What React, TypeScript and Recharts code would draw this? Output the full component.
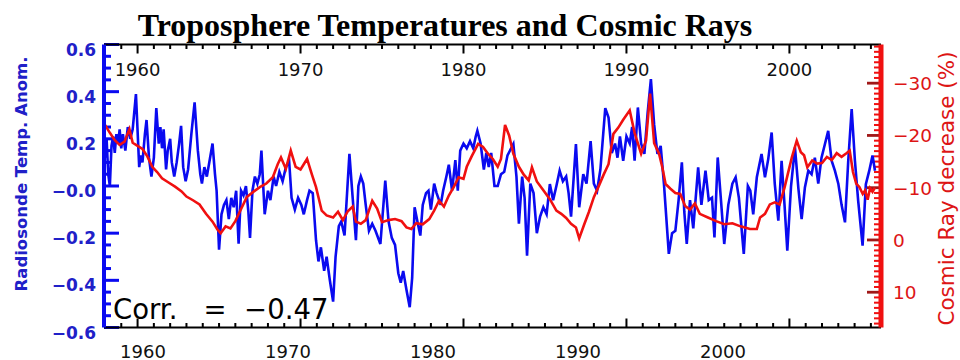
import React from 'react';
import { LineChart, Line, XAxis, YAxis } from 'recharts';

// ---------- data ----------
const TEMP_YEARS = [
  1958.0, 1958.1, 1958.2, 1958.3, 1958.4, 1958.5, 1958.6, 1958.7, 1958.8, 1958.9,
  1959.0, 1959.1, 1959.25, 1959.4, 1959.55, 1959.7, 1959.9, 1960.1, 1960.2, 1960.3,
  1960.45, 1960.55, 1960.7, 1960.85, 1961.0, 1961.15, 1961.3, 1961.4, 1961.5, 1961.6,
  1961.75, 1961.85, 1962.0, 1962.1, 1962.25, 1962.4, 1962.55, 1962.67, 1962.8, 1962.95,
  1963.1, 1963.3, 1963.5, 1963.7, 1963.85, 1963.95, 1964.1, 1964.25, 1964.4, 1964.6,
  1964.75, 1964.85, 1965.0, 1965.15, 1965.3, 1965.45, 1965.6, 1965.75, 1965.9, 1966.05,
  1966.2, 1966.35, 1966.5, 1966.65, 1966.8, 1966.9, 1967.05, 1967.2, 1967.35, 1967.5,
  1967.6, 1967.8, 1968.0, 1968.15, 1968.35, 1968.5, 1968.7, 1968.9, 1969.1, 1969.3,
  1969.45, 1969.65, 1969.85, 1970.05, 1970.2, 1970.4, 1970.55, 1970.75, 1970.95, 1971.1,
  1971.25, 1971.45, 1971.6, 1971.8, 1972.0, 1972.15, 1972.35, 1972.5, 1972.7, 1973.0,
  1973.2, 1973.4, 1973.55, 1973.7, 1973.85, 1974.0, 1974.2, 1974.4, 1974.6, 1974.9,
  1975.2, 1975.4, 1975.6, 1975.8, 1976.0, 1976.15, 1976.3, 1976.5, 1976.7, 1976.85,
  1977.0, 1977.2, 1977.35, 1977.5, 1977.7, 1977.85, 1978.0, 1978.2, 1978.35, 1978.6,
  1978.75, 1978.95, 1979.1, 1979.3, 1979.5, 1979.65, 1979.8, 1980.0, 1980.2, 1980.4,
  1980.6, 1980.75, 1980.85, 1981.05, 1981.25, 1981.4, 1981.55, 1981.7, 1981.9, 1982.1,
  1982.3, 1982.5, 1982.7, 1983.06, 1983.25, 1983.4, 1983.6, 1983.75, 1983.9, 1984.1,
  1984.3, 1984.5, 1984.7, 1984.9, 1985.1, 1985.3, 1985.5, 1985.7, 1985.9, 1986.1,
  1986.3, 1986.45, 1986.6, 1986.9, 1987.1, 1987.35, 1987.55, 1987.8, 1988.0, 1988.2,
  1988.4, 1988.7, 1988.9, 1989.1, 1989.3, 1989.45, 1989.6, 1989.8, 1990.0, 1990.2,
  1990.35, 1990.5, 1990.7, 1990.9, 1991.1, 1991.3, 1991.5, 1991.7, 1991.9, 1992.1,
  1992.3, 1992.6, 1992.8, 1993.0, 1993.2, 1993.4, 1993.55, 1993.7, 1993.9, 1994.1,
  1994.4, 1994.6, 1994.85, 1995.05, 1995.25, 1995.4, 1995.6, 1995.8, 1996.0, 1996.25,
  1996.5, 1996.7, 1996.9, 1997.2, 1997.45, 1997.6, 1997.78, 1998.0, 1998.29, 1998.5,
  1998.7, 1998.91, 1999.1, 1999.32, 1999.52, 1999.7, 1999.87, 2000.1, 2000.34, 2000.55,
  2000.75, 2000.95, 2001.16, 2001.36, 2001.56, 2001.77, 2001.97, 2002.18, 2002.38, 2002.59,
  2002.79, 2003.0, 2003.2, 2003.41, 2003.61, 2003.82, 2004.02, 2004.22, 2004.49, 2004.69,
  2004.9, 2005.1, 2005.25,
];
const TEMP_ANOM = [
  0.12, 0.2, 0.05, 0.0, 0.17, 0.21, 0.14, 0.22, 0.18, 0.24,
  0.16, 0.22, 0.15, 0.25, 0.2, 0.24, 0.39, 0.08, 0.13, 0.1,
  0.22, 0.28, 0.12, 0.04, 0.12, 0.33, 0.18, 0.25, 0.16, 0.24,
  0.07, 0.15, 0.2, 0.1, 0.04, 0.1, 0.18, 0.255, 0.08, 0.02,
  0.07, 0.22, 0.355, 0.15, 0.05, 0.01, 0.08, 0.04, 0.1, 0.18,
  0.05, -0.02, -0.27, -0.12, -0.08, -0.06, -0.14, -0.05, -0.09, -0.02,
  -0.245, -0.02, -0.04, 0.0, -0.11, -0.22, -0.02, 0.04, 0.01, 0.05,
  0.15, -0.12, -0.02, -0.06, 0.04, 0.0, 0.06, 0.02, 0.08, 0.107,
  -0.05, -0.1, -0.05, -0.08, -0.12, -0.06, -0.02, -0.03, -0.23, -0.32,
  -0.26, -0.36, -0.3, -0.4, -0.49, -0.3, -0.17, -0.15, -0.21, 0.136,
  -0.05, -0.23, 0.0, 0.04, 0.01, -0.08, -0.19, -0.16, -0.19, -0.246,
  0.023, -0.15, -0.22, -0.25, -0.37, -0.41, -0.36, -0.44, -0.514, -0.39,
  -0.09, -0.16, -0.21, -0.08, -0.03, -0.02, -0.1, 0.01, -0.03, -0.08,
  -0.02, 0.04, 0.09, -0.02, 0.11, -0.02, 0.15, 0.18, 0.16, 0.19,
  0.16, 0.21, 0.234, 0.18, 0.07, 0.14, 0.08, 0.14, 0.0, 0.0,
  0.05, 0.06, 0.13, 0.178, 0.04, -0.16, 0.04, -0.05, -0.295, 0.01,
  -0.03, -0.2, -0.13, -0.09, -0.12, 0.008, -0.06, 0.0, 0.065, 0.02,
  0.04, -0.03, -0.13, 0.178, -0.09, 0.05, 0.01, 0.19, 0.01, -0.02,
  0.07, 0.33, 0.29, 0.14, 0.18, 0.12, 0.21, 0.107, 0.21, 0.18,
  0.25, 0.107, 0.333, 0.18, 0.136, 0.31, 0.453, 0.26, 0.136, 0.17,
  0.01, -0.288, -0.2, -0.19, -0.06, 0.1, -0.11, -0.246, -0.06, -0.18,
  0.079, -0.08, 0.065, -0.06, -0.05, -0.218, 0.121, -0.06, -0.246, -0.08,
  0.01, 0.037, -0.05, -0.288, 0.0, -0.02, -0.12, 0.037, 0.136, 0.037,
  0.114, 0.227, 0.01, -0.147, 0.107, -0.08, -0.274, 0.0, 0.164, -0.01,
  -0.14, -0.006, 0.065, 0.05, 0.12, 0.01, 0.12, 0.178, 0.234, 0.107,
  0.065, 0.01, -0.08, -0.154, 0.107, 0.326, 0.107, -0.063, -0.253, 0.008,
  0.065, 0.129, 0.065,
];

const CR_YEARS = [
  1958.0, 1958.3, 1958.6, 1958.9, 1959.2, 1959.5, 1959.7, 1960.0, 1960.3, 1960.6,
  1960.9, 1961.2, 1961.5, 1961.9, 1962.3, 1962.7, 1963.0, 1963.4, 1963.8, 1964.2,
  1964.6, 1964.9, 1965.1, 1965.4, 1965.7, 1966.0, 1966.3, 1966.7, 1967.1, 1967.5,
  1967.9, 1968.3, 1968.6, 1968.8, 1969.1, 1969.4, 1969.7, 1970.0, 1970.4, 1970.7,
  1970.95, 1971.3, 1971.6, 1972.0, 1972.3, 1972.6, 1972.9, 1973.2, 1973.4, 1973.7,
  1974.0, 1974.4, 1974.7, 1975.0, 1975.4, 1975.8, 1976.2, 1976.5, 1976.8, 1977.1,
  1977.5, 1977.9, 1978.2, 1978.5, 1978.8, 1979.1, 1979.4, 1979.7, 1980.0, 1980.2,
  1980.5, 1980.9, 1981.2, 1981.5, 1981.8, 1982.1, 1982.3, 1982.55, 1982.8, 1983.06,
  1983.4, 1983.7, 1984.0, 1984.2, 1984.5, 1984.9, 1985.3, 1985.7, 1986.0, 1986.3,
  1986.6, 1986.9, 1987.1, 1987.4, 1987.7, 1988.0, 1988.3, 1988.6, 1988.9, 1989.2,
  1989.5, 1989.8, 1990.2, 1990.5, 1990.9, 1991.2, 1991.45, 1991.7, 1992.0, 1992.2,
  1992.4, 1992.7, 1993.0, 1993.3, 1993.6, 1993.9, 1994.2, 1994.5, 1995.0, 1995.5,
  1996.0, 1996.5, 1997.0, 1997.58, 1998.0, 1998.2, 1998.5, 1998.8, 1999.1, 1999.4,
  1999.7, 1999.9, 2000.15, 2000.45, 2000.7, 2000.9, 2001.1, 2001.4, 2001.7, 2002.0,
  2002.3, 2002.6, 2002.9, 2003.2, 2003.5, 2003.7, 2003.9, 2004.1, 2004.3, 2004.5,
  2004.65, 2004.8, 2004.95, 2005.1, 2005.25,
];
const CR_DECREASE = [
  -22.0, -20.5, -19.1, -18.2, -18.8, -21.2, -18.6, -18.0, -17.4, -16.0,
  -14.0, -13.0, -11.8, -11.0, -10.2, -9.3, -8.3, -7.6, -6.8, -5.0,
  -3.5, -2.0, -1.3, -2.6, -2.2, -3.6, -5.6, -8.2, -9.2, -10.1,
  -10.8, -12.0, -14.5, -15.8, -13.6, -17.1, -14.0, -13.5, -15.5, -12.5,
  -10.1, -5.6, -4.7, -4.3, -5.4, -3.8, -5.5, -6.4, -3.5, -3.1,
  -3.8, -7.5, -6.0, -3.4, -3.8, -4.0, -3.6, -2.4, -2.1, -3.2,
  -3.0, -4.0, -5.6, -7.5, -6.4, -8.5, -10.1, -12.0, -11.7, -14.0,
  -16.0, -18.4, -17.8, -16.5, -15.5, -14.0, -15.5, -22.0, -20.0, -16.5,
  -14.0, -12.5, -11.4, -13.9, -11.2, -9.5, -7.8, -5.6, -5.0, -4.2,
  -3.1, -2.4, -0.3, -2.9, -5.4, -8.2, -10.3, -12.5, -14.5, -20.3,
  -21.5, -23.0, -24.8, -20.5, -16.5, -19.0, -28.0, -18.5, -16.5, -13.9,
  -10.7, -9.8, -9.0, -8.8, -6.5, -5.8, -7.0, -5.0, -4.3, -3.6,
  -3.0, -3.2, -2.6, -2.1, -2.1, -4.3, -5.0, -6.8, -7.2, -6.8,
  -10.0, -12.6, -15.8, -19.0, -16.8, -16.2, -13.9, -15.2, -14.6, -14.7,
  -15.9, -15.3, -16.6, -15.9, -16.6, -17.1, -13.0, -10.8, -10.1, -8.8,
  -9.5, -7.7, -9.9, -9.2, -10.0,
];

const DECADE_TICKS = [1960, 1970, 1980, 1990, 2000];
const TEMP_TICK_VALUES = [-0.6, -0.4, -0.2, 0.0, 0.2, 0.4, 0.6];
const TEMP_TICK_LABELS = ['\u22120.6', '\u22120.4', '\u22120.2', '\u22120.0', '0.2', '0.4', '0.6'];
const CR_TICK_VALUES = [-30, -20, -10, 0, 10];
const CR_TICK_LABELS = ['\u221230', '\u221220', '\u221210', '0', '10'];

const TITLE = 'Troposphere Temperatures and Cosmic Rays';
const LEFT_TITLE = 'Radiosonde Temp. Anom.';
const RIGHT_TITLE = 'Cosmic Ray decrease (%)';
const CORR_LABEL = 'Corr.   =  \u22120.47';

// ---------- layout ----------
const W = 960;
const H = 360;
const PLOT_LEFT = 104;
const PLOT_RIGHT = 881;
const PLOT_TOP = 44.5;
const PLOT_BOTTOM = 327.5;
const PLOT_W = PLOT_RIGHT - PLOT_LEFT;
const PLOT_H = PLOT_BOTTOM - PLOT_TOP;
const TOP_AXIS_H = 20;
const BOTTOM_AXIS_H = H - PLOT_BOTTOM;

const X_DOMAIN: [number, number] = [1957.94, 2005.62];
const XB_DOMAIN: [number, number] = [1957.31, 2010.9];
const T_DOMAIN: [number, number] = [-0.6, 0.6];
const CR_DOMAIN: [number, number] = [-37.4, 16.75];

const LEFT_MINOR = 7;
const LEFT_MAJOR = 15;
const RIGHT_MINOR = 7;
const RIGHT_MAJOR = 14;
const TOP_MINOR = 4.5;
const TOP_MAJOR = 9;

const BLUE_LINE = '#0a0af0';
const BLUE_TEXT = '#2020c8';
const RED_LINE = '#f01010';
const RED_TEXT = '#dd1515';
const RED_MAJOR = '#a01818';
const TICK_FONT = "'DejaVu Sans', sans-serif";

const tempData = TEMP_YEARS.map((year, i) => ({ year, v: TEMP_ANOM[i] }));
const crData = CR_YEARS.map((year, i) => ({ year, r: CR_DECREASE[i] }));

const yearTicks: number[] = [];
for (let y = 1958; y <= 2005; y++) yearTicks.push(y);
const tempTicks: number[] = [];
for (let i = -12; i <= 12; i++) tempTicks.push(Math.round(i * 5) / 100);
const crTicks: number[] = [];
for (let v = -37; v <= 16; v++) crTicks.push(v);

// linear maps identical to the axes' linear scales (used only for the inward tick comb)
const sx = (yr: number) => PLOT_LEFT + ((yr - X_DOMAIN[0]) / (X_DOMAIN[1] - X_DOMAIN[0])) * PLOT_W;
const sT = (v: number) => PLOT_BOTTOM - ((v - T_DOMAIN[0]) / (T_DOMAIN[1] - T_DOMAIN[0])) * PLOT_H;
const sCR = (v: number) => PLOT_TOP + ((v - CR_DOMAIN[0]) / (CR_DOMAIN[1] - CR_DOMAIN[0])) * PLOT_H;

const TopTick = (props: any) => {
  const { x, y, payload } = props;
  const yr = payload.value;
  if (!DECADE_TICKS.includes(yr)) return <g />;
  return (
    <text x={Number(x)} y={Number(y) + 31.5} textAnchor="middle" fontFamily={TICK_FONT} fontSize={18} fill="#111">
      {yr}
    </text>
  );
};

const BottomTick = (props: any) => {
  const { x, y, payload } = props;
  return (
    <text x={Number(x)} y={Number(y) + 30} textAnchor="middle" fontFamily={TICK_FONT} fontSize={18} fill="#111">
      {payload.value}
    </text>
  );
};

const LeftTick = (props: any) => {
  const { x, y, payload } = props;
  const idx = TEMP_TICK_VALUES.findIndex((t) => Math.abs(t - payload.value) < 1e-6);
  if (idx < 0) return <g />;
  return (
    <text x={Number(x) - 8} y={Number(y) + 11} textAnchor="end" fontFamily={TICK_FONT} fontWeight="bold" fontSize={17} fill={BLUE_TEXT}>
      {TEMP_TICK_LABELS[idx]}
    </text>
  );
};

const RightTick = (props: any) => {
  const { x, y, payload } = props;
  const idx = CR_TICK_VALUES.indexOf(payload.value);
  if (idx < 0) return <g />;
  return (
    <text x={Number(x) + 12} y={Number(y) + 7} textAnchor="start" fontFamily={TICK_FONT} fontSize={18.5} fill={RED_TEXT}>
      {CR_TICK_LABELS[idx]}
    </text>
  );
};

function TickComb() {
  const marks: React.ReactNode[] = [];
  yearTicks.forEach((yr) => {
    const len = DECADE_TICKS.includes(yr) ? TOP_MAJOR : TOP_MINOR;
    const x = sx(yr);
    marks.push(<rect key={`t${yr}`} x={x - 1} y={PLOT_TOP} width={2} height={len} fill="#000" />);
    marks.push(<rect key={`b${yr}`} x={x - 1} y={PLOT_BOTTOM - len} width={2} height={len} fill="#000" />);
  });
  tempTicks.forEach((v) => {
    const major = TEMP_TICK_VALUES.some((t) => Math.abs(t - v) < 1e-6);
    const len = major ? LEFT_MAJOR : LEFT_MINOR;
    marks.push(<rect key={`l${v}`} x={PLOT_LEFT} y={sT(v) - 1.5} width={len} height={3} fill={BLUE_LINE} />);
  });
  crTicks.forEach((v) => {
    const major = CR_TICK_VALUES.includes(v);
    const len = major ? RIGHT_MAJOR : RIGHT_MINOR;
    const h = major ? 2.8 : 2;
    marks.push(<rect key={`r${v}`} x={PLOT_RIGHT - len} y={sCR(v) - h / 2} width={len} height={h} fill={major ? RED_MAJOR : RED_LINE} />);
  });
  return <g className="tick-comb">{marks}</g>;
}

export default function App() {
  return (
    <div style={{ position: 'absolute', left: 0, top: 0, width: W, height: H, background: '#fff' }}>
      <LineChart
        width={W}
        height={H}
        margin={{ top: PLOT_TOP - TOP_AXIS_H, right: 0, bottom: 0, left: 0 }}
      >
        <XAxis
          xAxisId="t"
          orientation="top"
          type="number"
          dataKey="year"
          domain={X_DOMAIN}
          allowDataOverflow
          ticks={yearTicks}
          interval={0}
          height={TOP_AXIS_H}
          tickSize={0}
          tickMargin={0}
          tickLine={false}
          axisLine={{ stroke: '#000', strokeWidth: 2 }}
          tick={<TopTick />}
        />
        <XAxis
          xAxisId="b"
          orientation="bottom"
          type="number"
          dataKey="year"
          domain={XB_DOMAIN}
          allowDataOverflow
          ticks={DECADE_TICKS}
          interval={0}
          height={BOTTOM_AXIS_H}
          tickSize={0}
          tickMargin={0}
          tickLine={false}
          axisLine={{ stroke: '#000', strokeWidth: 2 }}
          tick={<BottomTick />}
        />
        <YAxis
          yAxisId="L"
          orientation="left"
          type="number"
          domain={T_DOMAIN}
          allowDataOverflow
          ticks={tempTicks}
          interval={0}
          width={PLOT_LEFT}
          tickSize={0}
          tickMargin={0}
          tickLine={false}
          axisLine={{ stroke: BLUE_LINE, strokeWidth: 4 }}
          tick={<LeftTick />}
        />
        <YAxis
          yAxisId="R"
          orientation="right"
          type="number"
          reversed
          domain={CR_DOMAIN}
          allowDataOverflow
          ticks={crTicks}
          interval={0}
          width={W - PLOT_RIGHT}
          tickSize={0}
          tickMargin={0}
          tickLine={false}
          axisLine={{ stroke: RED_LINE, strokeWidth: 5 }}
          tick={<RightTick />}
        />
        {/* invisible carrier so the lower (label-only) year axis gets a scale */}
        <Line
          xAxisId="b"
          yAxisId="L"
          data={tempData}
          dataKey="v"
          stroke="none"
          strokeWidth={0}
          dot={false}
          activeDot={false}
          legendType="none"
          isAnimationActive={false}
        />
        <Line
          xAxisId="t"
          yAxisId="L"
          data={tempData}
          dataKey="v"
          type="linear"
          stroke={BLUE_LINE}
          strokeWidth={2.6}
          dot={false}
          isAnimationActive={false}
        />
        <Line
          xAxisId="t"
          yAxisId="R"
          data={crData}
          dataKey="r"
          type="linear"
          stroke={RED_LINE}
          strokeWidth={2.6}
          dot={false}
          isAnimationActive={false}
        />
        <TickComb />
        <text x={445} y={36} textAnchor="middle" fontFamily="'Liberation Serif', 'Times New Roman', serif" fontWeight="bold" fontSize={32} fill="#000">
          {TITLE}
        </text>
        <text x={PLOT_LEFT + 9} y={PLOT_BOTTOM - 8.5} fontFamily={TICK_FONT} fontSize={27.5} fill="#000" style={{ whiteSpace: 'pre' }} xmlSpace="preserve">
          {CORR_LABEL}
        </text>
        <text
          x={26.5}
          y={174}
          transform="rotate(-90 26.5 174)"
          textAnchor="middle"
          fontFamily={TICK_FONT}
          fontWeight="bold"
          fontSize={16.5}
          fill={BLUE_TEXT}
        >
          {LEFT_TITLE}
        </text>
        <text
          x={954}
          y={188.5}
          transform="rotate(-90 954 188.5)"
          textAnchor="middle"
          fontFamily={TICK_FONT}
          fontSize={21.5}
          fill={RED_TEXT}
        >
          {RIGHT_TITLE}
        </text>
      </LineChart>
    </div>
  );
}
